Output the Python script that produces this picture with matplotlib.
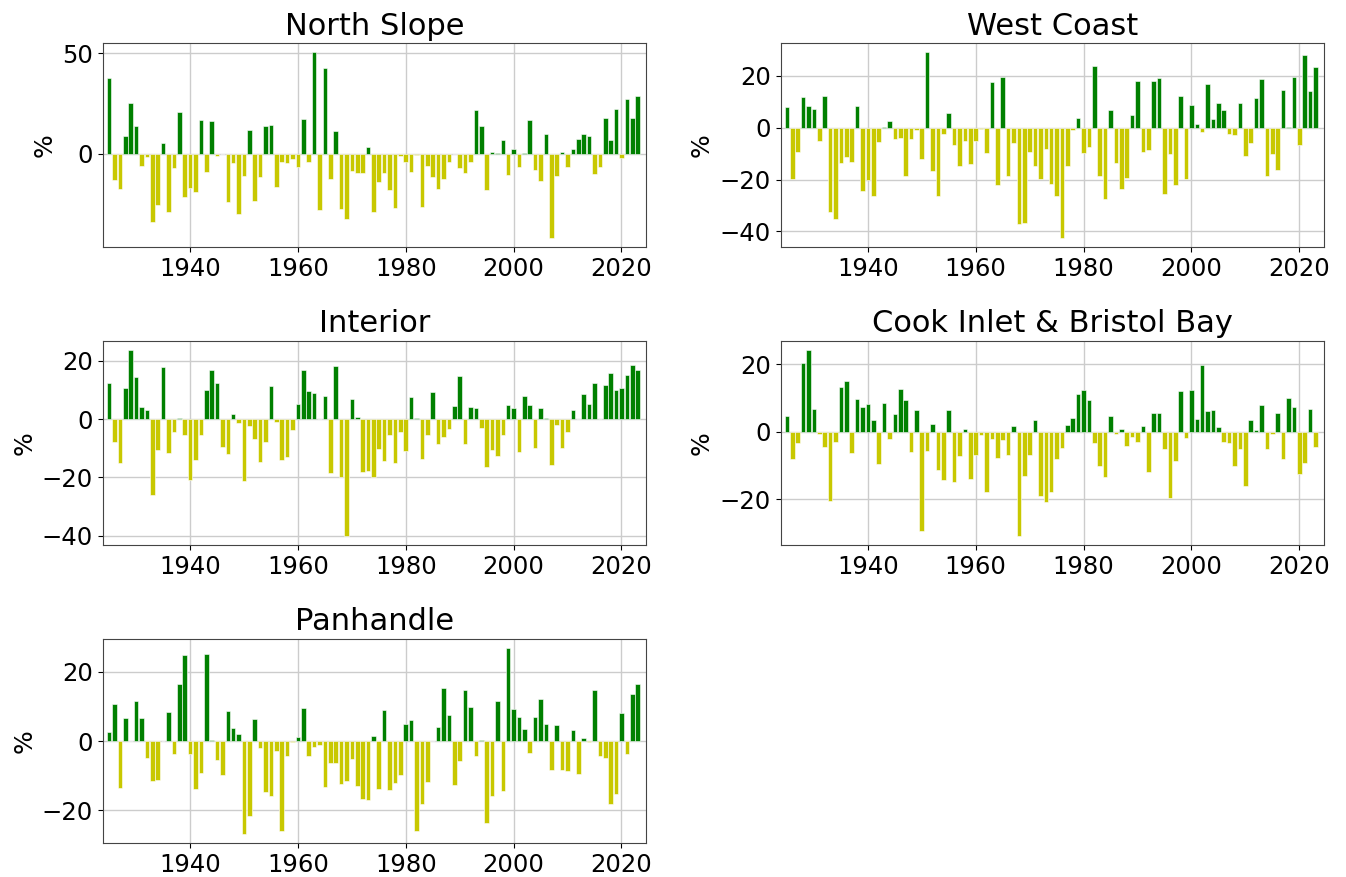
import matplotlib
matplotlib.use("Agg")
import matplotlib.pyplot as plt
import numpy as np

years = list(range(1925, 2024))

north_slope = [37.5, -13.3, -17.4, 8.6, 25.2, 13.8, -6, -1.5, -33.9, -25.6,
               5.6, -28.9, -7.1, 20.6, -21.6, -17.1, -19.1, 16.8, -9, 16.3,
               -1.3, -0.3, -23.9, -4.5, -29.9, -11.3, 12, -23.4, -11.5, 13.6,
               14.3, -16.3, -4.3, -4.5, -2.7, -6.5, 17.4, -4, 50.5, -28,
               42.5, -12.5, 11.5, -27.4, -32.6, -8.6, -9.8, -9.8, 3.5, -28.9,
               -14.1, -9.8, -17.8, -26.9, -1.2, -4, -9.1, -0.7, -26.6, -6,
               -11.5, -17.4, -12.5, -4.2, -0.3, -7.1, -9.8, -4, 21.6, 13.8,
               -17.8, 0.8, 0.2, 7, -10.6, 2.3, -6.6, 0.2, 16.8, -8.3,
               -13.8, 9.8, -41.9, -11, 0.8, -6.5, 2.2, 7.3, 9.8, 9,
               -10.1, -6.5, 17.6, 7, 22.4, -2.3, 27.1, 17.6, 28.7]

west_coast = [8, -19.8, -9.3, 11.8, 8.4, 7, -5.3, 12.2, -32.6, -35.3,
              -13.8, -11.3, -13.4, 8.4, -24.6, -20.3, -26.5, -5.7, 0.4, 2.6,
              -4.4, -3.9, -18.5, -4.4, -0.8, -12.2, 29, -16.9, -26.5, -2.4,
              5.8, -6.6, -14.7, -5.3, -14, -5, -0.4, -9.7, 17.6, -22,
              19.6, -18.8, -5.9, -37.3, -36.6, -9.3, -14.7, -19.8, -8.2, -21.6,
              -26.3, -42.5, -14.7, -0.8, 3.5, -9.7, -7.6, 23.7, -18.8, -27.4,
              6.8, -13.5, -23.7, -19.4, 5, 18, -9.5, -8.5, 17.9, 19.2,
              -25.5, -10.3, -22, 12, -19.7, 8.8, 1.4, -1.8, 16.9, 3.3,
              9.4, 6.7, -2.3, -2.7, 9.3, -11.1, -5.8, 11.5, 18.8, -18.5,
              -10.3, -16.3, 14.5, 0.1, 19.6, -6.6, 27.9, 14.2, 23.2]

interior = [12.3, -7.9, -14.9, 10.5, 23.6, 14.3, 4, 3, -25.9, -10.5,
            17.9, -11.8, -4.6, 0.2, -5.6, -20.8, -14.1, -5.6, 9.9, 16.7,
            12.5, -9.7, -12, 1.8, -1.5, -21.1, -2.4, -7, -14.8, -7.9,
            11.4, -1, -14, -13, -3.8, 5.3, 16.8, 9.7, 8.9, 0.1,
            7.9, -18.5, 18.3, -20, -40, 6.8, 0.6, -18, -17.7, -19.9,
            -10.3, -14.4, -5.4, -15.1, -4.3, -10.9, 7.6, 0.2, -13.6, -5.5,
            9.4, -8.6, -6.2, -3.3, 4.3, 14.8, -8.6, 4.1, 3.9, -3.2,
            -16.3, -10.5, -12.5, -5.6, 4.7, 3.7, -11.4, 7.8, 4.8, -10,
            3.8, 0.5, -15.9, -2.1, -9.9, -4.6, 3.1, 0.1, 8.7, 5.3,
            12.2, 0.1, 11.6, 15.7, 10, 10.5, 15.2, 18.5, 16.9]

cook_inlet = [4.6, -7.9, -3.4, 20.4, 24.2, 6.8, -0.5, -4.4, -20.4, -2.9,
              13.4, 15.2, -6.4, 9.7, 7.4, 8.3, 3.6, -9.4, 8.6, -2.2,
              5.2, 12.6, 9.3, -6, 6.4, -29.4, -5.7, 2.4, -11.4, -14.2,
              6.6, -14.9, -7.1, 0.7, -13.9, -6.9, -1, -17.8, -2.2, -7.8,
              -2.5, -7, 1.8, -30.8, -13, -7, 3.6, -18.9, -20.9, -17.9,
              -7.9, -4.9, 2, 4.2, 11.3, 12.4, 9.5, -3.4, -10.2, -13.3,
              4.8, -0.5, 0.7, -4.1, -1.6, -3.1, 1.8, -11.9, 5.6, 5.7,
              -5.1, -19.5, -8.6, 12.1, -1.8, 12.3, 3.9, 19.8, 6.3, 6.6,
              1.4, -3, -3.3, -10.1, -5, -16, 3.6, 0.4, 7.8, -5,
              -0.6, 5.7, -8.1, 9.9, 7.5, -12.4, -9.1, 6.8, -4.4]

panhandle = [2.6, 10.8, -13.4, 6.8, 0.1, 11.6, 6.6, -4.8, -11.4, -11.1,
             0.1, 8.3, -3.8, 16.5, 24.8, -3.7, -13.7, -9.2, 25.1, 0.3,
             -5.5, -9.8, 8.8, 3.9, 2.1, -26.7, -21.5, 6.3, -2.1, -14.6,
             -15.8, -2.8, -26, -4.4, -0.3, 1.3, 9.7, -4.3, -1.8, -1,
             -13.3, -6.4, -6.4, -12.4, -11.4, -5.2, -12.9, -16.7, -17.1, 1.5,
             -13.8, 8.9, -14.1, -12.2, -9.8, 4.9, 6.1, -25.8, -18, -11.7,
             0.1, 4, 15.3, 7.5, -12.6, -5.6, 14.7, 10, -4.4, 0.3,
             -23.5, -15.7, 11.5, -14.5, 26.9, 9.3, 6.9, 3.5, -3.4, 7.1,
             12.3, 5, -8.3, 4.7, -8.2, -8.6, 3.2, -9.5, 0.8, -0.3,
             14.7, -4.2, -4.9, -18.2, -15.2, 8, -3.7, 13.5, 16.5]

titles = ["North Slope", "West Coast", "Interior", "Cook Inlet & Bristol Bay", "Panhandle"]
series = [north_slope, west_coast, interior, cook_inlet, panhandle]

POS = "#008000"
NEG = "#c8c800"

fig, axes = plt.subplots(3, 2, figsize=(13.46, 8.77), dpi=100)
fig.subplots_adjust(left=0.0763, right=0.9837, top=0.951, bottom=0.0388,
                    wspace=0.247, hspace=0.458)
flat = axes.flatten()
for ax, title, vals in zip(flat, titles, series):
    v = np.array(vals)
    colors = [POS if x > 0 else NEG for x in v]
    ax.bar(years, v, width=0.85, color=colors, edgecolor="white", linewidth=0.4)
    ax.set_title(title, fontsize=22)
    ax.set_ylabel("%", fontsize=18)
    ax.tick_params(labelsize=17.5)
    ax.set_xlim(1923.8, 2024.6)
    ax.set_xticks([1940, 1960, 1980, 2000, 2020])
    ax.grid(True, color="#cccccc", linewidth=1)
    ax.set_axisbelow(True)
    for s in ax.spines.values():
        s.set_color("#444444")
flat[5].remove()

fig.savefig("out.png", dpi=100)
